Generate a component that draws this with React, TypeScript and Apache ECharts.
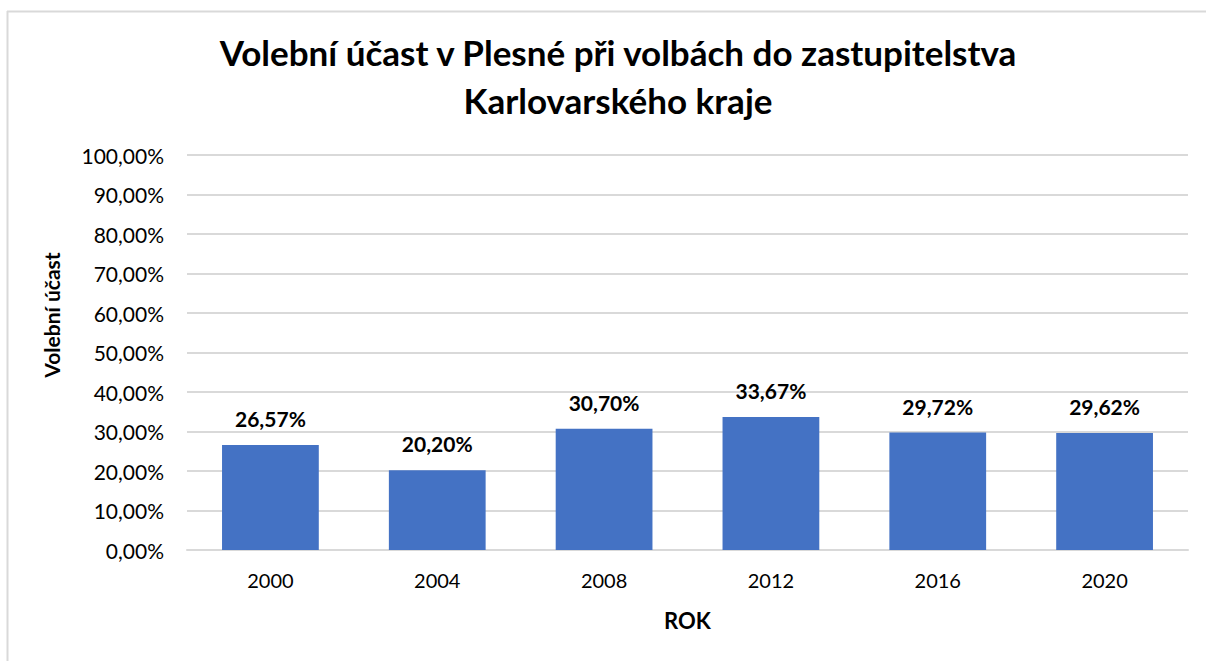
import React, { useEffect, useRef } from "react";
import * as echarts from "echarts";

const categories = ["2000", "2004", "2008", "2012", "2016", "2020"];
const turnout = [26.57, 20.2, 30.7, 33.67, 29.72, 29.62];
const titleText = "Volební účast v Plesné při volbách do zastupitelstva\nKarlovarského kraje";
const yAxisName = "Volební účast";
const xAxisName = "ROK";

const FONT = "Lato, 'Open Sans', sans-serif";
const fmt = (v: number) => v.toFixed(2).replace(".", ",") + "%";

export default function App() {
  const ref = useRef<HTMLDivElement>(null);
  useEffect(() => {
    if (!ref.current) return;
    const chart = echarts.init(ref.current, null, { renderer: "svg" });
    chart.setOption({
      animation: false,
      backgroundColor: "#ffffff",
      title: {
        text: titleText,
        left: 613,
        textAlign: "center",
        top: 23,
        textStyle: {
          fontFamily: FONT,
          fontSize: 35,
          fontWeight: "bold",
          color: "#000",
          lineHeight: 48,
        },
      },
      graphic: [
        {
          type: "line",
          shape: { x1: 7, y1: 11.5, x2: 1206, y2: 11.5 },
          style: { stroke: "#d9d9d9", lineWidth: 2 },
        },
        {
          type: "line",
          shape: { x1: 7.5, y1: 11, x2: 7.5, y2: 661 },
          style: { stroke: "#d9d9d9", lineWidth: 2 },
        },
        {
          type: "text",
          x: 51,
          y: 315,
          rotation: Math.PI / 2,
          style: {
            text: yAxisName,
            fontFamily: FONT,
            fontSize: 21,
            fontWeight: "bold",
            fill: "#000",
            align: "center",
            verticalAlign: "middle",
          },
        },
      ],
      grid: { left: 187, right: 18, top: 155, bottom: 111, containLabel: false },
      xAxis: {
        type: "category",
        data: categories,
        name: xAxisName,
        nameLocation: "middle",
        nameGap: 59,
        nameTextStyle: { fontFamily: FONT, fontSize: 22, fontWeight: "bold", color: "#000" },
        axisLine: { lineStyle: { color: "#d9d9d9", width: 2 } },
        axisTick: { show: false },
        axisLabel: { fontFamily: FONT, fontSize: 20, color: "#000", margin: 20 },
      },
      yAxis: {
        type: "value",
        min: 0,
        max: 100,
        interval: 10,
        axisLine: { show: false },
        axisTick: { show: false },
        axisLabel: { fontFamily: FONT, fontSize: 21, color: "#000", margin: 23, formatter: (v: number) => fmt(v) },
        splitLine: { lineStyle: { color: "#d9d9d9", width: 2 } },
      },
      series: [
        {
          type: "bar",
          data: turnout,
          barCategoryGap: "42%",
          itemStyle: { color: "#4472c4" },
          label: {
            show: true,
            position: "top",
            distance: 16,
            fontFamily: FONT,
            fontSize: 21,
            fontWeight: "bold",
            color: "#000",
            formatter: (p: any) => fmt(p.value),
          },
        },
      ],
    });
    return () => chart.dispose();
  }, []);
  return (
    <div
      ref={ref}
      style={{ position: "fixed", left: 0, top: 0, width: 1206, height: 661 }}
    />
  );
}
